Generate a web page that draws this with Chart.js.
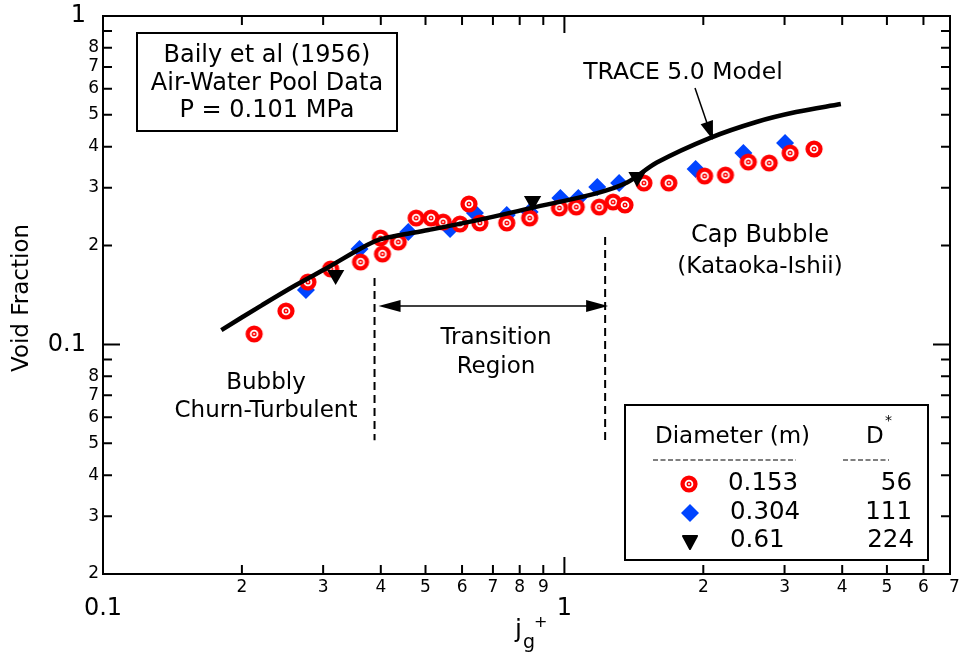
<!DOCTYPE html>
<html>
<head>
<meta charset="utf-8">
<script src="https://cdn.jsdelivr.net/npm/chart.js@4.4.0/dist/chart.umd.min.js"></script>
<style>
  html, body { margin: 0; padding: 0; background: #fff; }
  #wrap { width: 960px; height: 654px; }
</style>
</head>
<body>
<div id="wrap"><canvas id="voidChart" width="960" height="654"></canvas></div>
<script>
// data (log-log, jg+ vs void fraction)
const jgRed = [0.2126, 0.2492, 0.2780, 0.3115, 0.3615, 0.3993, 0.4033, 0.4365, 0.4772, 0.514, 0.546, 0.5938, 0.621, 0.6558, 0.750, 0.8407, 0.9755, 1.061, 1.19, 1.275, 1.353, 1.487, 1.684, 2.013, 2.234, 2.504, 2.779, 3.085, 3.475];
const alphaRed = [0.1076, 0.1264, 0.1549, 0.1697, 0.1782, 0.2109, 0.1885, 0.205, 0.2426, 0.2426, 0.2359, 0.2326, 0.2677, 0.2343, 0.2343, 0.2426, 0.2603, 0.262, 0.262, 0.2714, 0.2658, 0.310, 0.310, 0.3257, 0.328, 0.3592, 0.3567, 0.3826, 0.3936];

const jgBlue = [0.2753, 0.3597, 0.4587, 0.5652, 0.6398, 0.750, 0.8407, 0.980, 1.072, 1.178, 1.314, 1.925, 2.443, 3.008];
const alphaBlue = [0.1464, 0.1952, 0.220, 0.2246, 0.2513, 0.2477, 0.2531, 0.2791, 0.2791, 0.3015, 0.310, 0.342, 0.3826, 0.4106];

const jgBlack = [0.3193, 0.8531, 1.437];
const alphaBlack = [0.1627, 0.2733, 0.3235];

const jgModel = [0.1805, 0.2212, 0.2619, 0.3085, 0.3634, 0.3954, 0.430, 0.5066, 0.649, 0.845, 1.178, 1.367, 1.586, 2.064, 2.606, 3.178, 3.973];
const alphaModel = [0.1106, 0.1318, 0.1517, 0.1721, 0.1966, 0.208, 0.2138, 0.2230, 0.239, 0.260, 0.289, 0.311, 0.358, 0.425, 0.4757, 0.510, 0.5395];

// tick marks and their labels
const xMinorTicks = [0.2, 0.3, 0.4, 0.5, 0.6, 0.7, 0.8, 0.9, 2, 3, 4, 5, 6, 7];
const xMinorLabels = ['2', '3', '4', '5', '6', '7', '8', '9', '2', '3', '4', '5', '6', '7'];
const xMajorTicks = [0.1, 1];
const xMajorLabels = ['0.1', '1'];
const yMinorTicks = [0.02, 0.03, 0.04, 0.05, 0.06, 0.07, 0.08, 0.09, 0.2, 0.3, 0.4, 0.5, 0.6, 0.7, 0.8, 0.9];
const yMinorLabels = ['2', '3', '4', '5', '6', '7', '8', '', '2', '3', '4', '5', '6', '7', '8', ''];
const yMajorTicks = [0.1, 1];
const yMajorLabels = ['0.1', '1'];

// region boundaries (jg+)
const transitionStart = 0.3877;
const transitionEnd = 1.2254;

const RED = '#ff0000';
const BLUE = '#0044ff';
const FONT = '"DejaVu Sans", sans-serif';

function toPoints(xs, ys) {
    return xs.map((v, i) => ({ x: v, y: ys[i] }));
}

function makeTarget() {
    const c = document.createElement('canvas');
    c.width = 22; c.height = 22;
    const g = c.getContext('2d');
    const ring = [[8.6, RED], [4.3, '#fff'], [2.5, RED], [1, '#fff']];
    ring.forEach(([r, col]) => {
        g.fillStyle = col;
        g.beginPath(); g.arc(11, 11, r, 0, Math.PI * 2); g.fill();
    });
    return c;
}
const targetImg = makeTarget();

function arrowHead(ctx, x0, y0, x1, y1, len, half) {
    const a = Math.atan2(y1 - y0, x1 - x0);
    const bx = x1 - len * Math.cos(a), by = y1 - len * Math.sin(a);
    ctx.beginPath();
    ctx.moveTo(x1, y1);
    ctx.lineTo(bx + half * Math.sin(a), by - half * Math.cos(a));
    ctx.lineTo(bx - half * Math.sin(a), by + half * Math.cos(a));
    ctx.closePath();
    ctx.fill();
}

function text(ctx, s, x, y, size, align) {
    ctx.font = size + 'px ' + FONT;
    ctx.textAlign = align || 'center';
    ctx.fillText(s, x, y);
}

// frame, inward ticks and tick labels
const axesPlugin = {
    id: 'logAxes',
    afterDraw(chart) {
        const { ctx, chartArea: a, scales: { x, y } } = chart;
        ctx.save();
        ctx.strokeStyle = '#000';
        ctx.fillStyle = '#000';
        ctx.lineWidth = 2;
        ctx.strokeRect(a.left, a.top, a.right - a.left, a.bottom - a.top);

        ctx.beginPath();
        xMinorTicks.concat(xMajorTicks).forEach(v => {
            const len = xMajorTicks.includes(v) ? 17 : 9;
            const px = x.getPixelForValue(v);
            if (px > a.right) return;
            ctx.moveTo(px, a.bottom); ctx.lineTo(px, a.bottom - len);
            ctx.moveTo(px, a.top); ctx.lineTo(px, a.top + len);
        });
        yMinorTicks.concat(yMajorTicks).forEach(v => {
            const len = yMajorTicks.includes(v) ? 17 : 9;
            const py = y.getPixelForValue(v);
            ctx.moveTo(a.left, py); ctx.lineTo(a.left + len, py);
            ctx.moveTo(a.right, py); ctx.lineTo(a.right - len, py);
        });
        ctx.stroke();

        ctx.textBaseline = 'middle';
        xMinorTicks.forEach((v, i) => text(ctx, xMinorLabels[i], x.getPixelForValue(v), a.bottom + 14, 17));
        xMajorTicks.forEach((v, i) => text(ctx, xMajorLabels[i], x.getPixelForValue(v), a.bottom + 35, 24));
        yMinorTicks.forEach((v, i) => text(ctx, yMinorLabels[i], a.left - 4, y.getPixelForValue(v), 17, 'right'));
        yMajorTicks.forEach((v, i) => text(ctx, yMajorLabels[i], a.left - 17, y.getPixelForValue(v), 24, 'right'));

        // axis titles
        ctx.save();
        ctx.translate(22, 298);
        ctx.rotate(-Math.PI / 2);
        text(ctx, 'Void Fraction', 0, 0, 23);
        ctx.restore();
        ctx.textBaseline = 'alphabetic';
        text(ctx, 'j', 515, 637, 25, 'left');
        text(ctx, 'g', 523, 648, 19, 'left');
        text(ctx, '+', 534, 627, 16, 'left');
        ctx.restore();
    }
};

// notes, region marks and the legend table
const notesPlugin = {
    id: 'notes',
    afterDraw(chart) {
        const { ctx, scales: { x, y } } = chart;
        ctx.save();
        ctx.strokeStyle = '#000';
        ctx.fillStyle = '#000';
        ctx.textBaseline = 'middle';

        // data source box
        ctx.lineWidth = 2;
        ctx.strokeRect(137, 33, 260, 98);
        text(ctx, 'Baily et al (1956)', 267, 56, 24);
        text(ctx, 'Air-Water Pool Data', 267, 84, 24);
        text(ctx, 'P = 0.101 MPa', 267, 111, 24);

        // model label + arrow
        text(ctx, 'TRACE 5.0 Model', 683, 73, 23.5);
        ctx.lineWidth = 1.5;
        ctx.beginPath(); ctx.moveTo(695, 88); ctx.lineTo(708, 126); ctx.stroke();
        arrowHead(ctx, 695, 88, 713, 140, 19, 6.5);

        text(ctx, 'Cap Bubble', 760, 236, 24);
        text(ctx, '(Kataoka-Ishii)', 760, 267, 23);
        text(ctx, 'Transition', 496, 338, 23);
        text(ctx, 'Region', 496, 367, 23);
        text(ctx, 'Bubbly', 266, 383, 23);
        text(ctx, 'Churn-Turbulent', 266, 411, 23);

        // transition boundaries
        const xl = x.getPixelForValue(transitionStart);
        const xr = x.getPixelForValue(transitionEnd);
        ctx.lineWidth = 2;
        ctx.setLineDash([8, 5]);
        ctx.beginPath();
        ctx.moveTo(xl, y.getPixelForValue(0.1593)); ctx.lineTo(xl, y.getPixelForValue(0.0511));
        ctx.moveTo(xr, y.getPixelForValue(0.2123)); ctx.lineTo(xr, y.getPixelForValue(0.0502));
        ctx.stroke();
        ctx.setLineDash([]);

        const ya = y.getPixelForValue(0.1309);
        ctx.lineWidth = 1.5;
        ctx.beginPath(); ctx.moveTo(xl + 15, ya); ctx.lineTo(xr - 15, ya); ctx.stroke();
        arrowHead(ctx, xr, ya, xl + 4, ya, 22, 6);
        arrowHead(ctx, xl, ya, xr + 3, ya, 22, 6);

        // legend table
        ctx.fillStyle = '#fff';
        ctx.fillRect(625, 405, 303, 155);
        ctx.fillStyle = '#000';
        ctx.lineWidth = 2;
        ctx.strokeRect(625, 405, 303, 155);
        text(ctx, 'Diameter (m)', 655, 437, 23, 'left');
        text(ctx, 'D', 866, 437, 23, 'left');
        text(ctx, '*', 885, 421, 14, 'left');
        ctx.lineWidth = 1.2;
        ctx.setLineDash([5, 2.5]);
        ctx.beginPath();
        ctx.moveTo(653, 460); ctx.lineTo(796, 460);
        ctx.moveTo(843, 460); ctx.lineTo(889, 460);
        ctx.stroke();
        ctx.setLineDash([]);

        ctx.drawImage(targetImg, 689 - 11, 484 - 11);
        ctx.fillStyle = BLUE;
        ctx.beginPath();
        ctx.moveTo(690, 504); ctx.lineTo(699, 513); ctx.lineTo(690, 522); ctx.lineTo(681, 513);
        ctx.closePath(); ctx.fill();
        ctx.fillStyle = '#000';
        ctx.lineJoin = 'round';
        ctx.lineWidth = 2;
        ctx.beginPath();
        ctx.moveTo(690, 549); ctx.lineTo(697, 536); ctx.lineTo(683, 536);
        ctx.closePath(); ctx.fill(); ctx.stroke();

        text(ctx, '0.153', 728, 484, 24.5, 'left');
        text(ctx, '0.304', 730, 513, 24.5, 'left');
        text(ctx, '0.61', 730, 541, 24.5, 'left');
        text(ctx, '56', 912, 484, 24.5, 'right');
        text(ctx, '111', 912, 513, 24.5, 'right');
        text(ctx, '224', 914, 541, 24.5, 'right');
        ctx.restore();
    }
};

const ctx = document.getElementById('voidChart').getContext('2d');
new Chart(ctx, {
    type: 'scatter',
    data: {
        datasets: [
            {
                label: 'TRACE 5.0 Model',
                type: 'line',
                data: toPoints(jgModel, alphaModel),
                borderColor: '#000',
                borderWidth: 4.5,
                pointRadius: 0,
                fill: false,
                tension: 0.35,
                order: 0
            },
            {
                label: '0.61',
                data: toPoints(jgBlack, alphaBlack),
                pointStyle: 'triangle',
                rotation: 180,
                pointRadius: 8,
                backgroundColor: '#000',
                borderColor: '#000',
                borderWidth: 2,
                order: 1
            },
            {
                label: '0.153',
                data: toPoints(jgRed, alphaRed),
                pointStyle: targetImg,
                pointRadius: 9,
                order: 2
            },
            {
                label: '0.304',
                data: toPoints(jgBlue, alphaBlue),
                pointStyle: 'rectRot',
                pointRadius: 9,
                backgroundColor: BLUE,
                borderWidth: 0,
                order: 3
            }
        ]
    },
    options: {
        responsive: false,
        animation: false,
        layout: { padding: { left: 103, right: 5, top: 16, bottom: 80 } },
        plugins: { legend: { display: false }, tooltip: { enabled: false } },
        scales: {
            x: { type: 'logarithmic', min: 0.1, max: 6.85, display: false },
            y: { type: 'logarithmic', min: 0.02, max: 1, display: false }
        }
    },
    plugins: [axesPlugin, notesPlugin]
});
</script>
</body>
</html>
